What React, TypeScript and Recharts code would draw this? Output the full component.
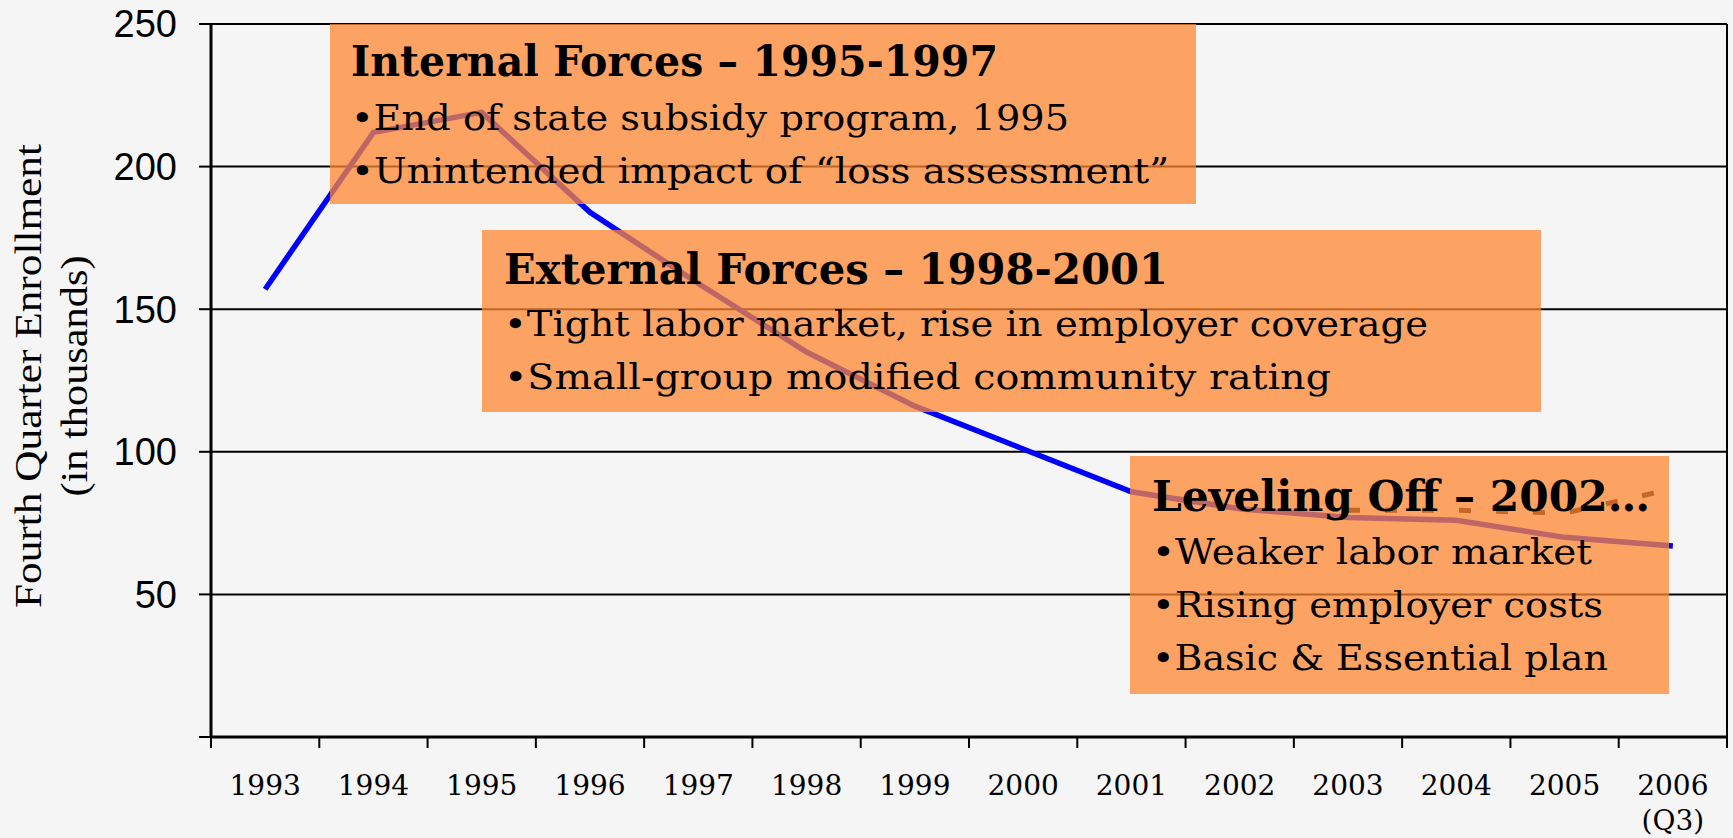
import React from 'react';
import { LineChart, Line, XAxis, YAxis, CartesianGrid, ReferenceLine } from 'recharts';

// Fourth quarter enrollment (thousands)
const years = ['1993', '1994', '1995', '1996', '1997', '1998', '1999', '2000', '2001', '2002', '2003', '2004', '2005', '2006'];
const enrollment = [157, 212, 219, 184, 159, 135, 116, 101, 86, 80, 77, 76, 70, 67];
const projected: (number | null)[] = [null, null, null, null, null, null, null, null, null, null, 79.5, 79.5, 78.5, 87];
const yTicks = [0, 50, 100, 150, 200, 250];
const lastYearNote = '(Q3)';

const axisTitle = ['Fourth Quarter Enrollment', '(in thousands)'];

const internalNote = ['Internal Forces \u2013 1995-1997', '\u2022End of state subsidy program, 1995', '\u2022Unintended impact of \u201closs assessment\u201d'];
const externalNote = ['External Forces \u2013 1998-2001', '\u2022Tight labor market, rise in employer coverage', '\u2022Small-group modified community rating'];
const levelingNote = ['Leveling Off \u2013 2002\u2026', '\u2022Weaker labor market', '\u2022Rising employer costs', '\u2022Basic & Essential plan'];

const data = years.map((year, i) => ({
  pos: i + 0.5,
  year,
  enrollment: enrollment[i],
  projected: projected[i],
}));

const boundaryTicks = [...years.map((_, i) => i), years.length];
const labelTicks = years.map((_, i) => i + 0.5);

const serif = '"DejaVu Serif", Georgia, serif';

const YearTick = ({ x, y, payload }: any) => {
  const idx = Math.floor(payload.value);
  const label = years[idx];
  const isLast = idx === years.length - 1;
  return (
    <g>
      <text x={x} y={y + 46} textAnchor="middle" fontFamily={serif} fontSize={28} fill="#000">
        {label}
      </text>
      {isLast && (
        <text x={x} y={y + 81} textAnchor="middle" fontFamily={serif} fontSize={28} fill="#000">
          {lastYearNote}
        </text>
      )}
    </g>
  );
};

// box layout for the three callouts: [x, y, w, h], text start, baselines, widths
const callouts = [
  { lines: internalNote, box: [330, 24, 866, 180], tx: 351, base: [76, 130, 183], widths: [647, 718, 818] },
  { lines: externalNote, box: [482, 230, 1059, 182], tx: 504, base: [284, 336, 389], widths: [664, 924, 827] },
  { lines: levelingNote, box: [1130, 456, 539, 238], tx: 1152, base: [511, 564, 617, 670], widths: [498, 440, 451, 456] },
];

export default function App() {
  return (
    <div style={{ position: 'absolute', left: 0, top: 0, width: 1733, height: 838, background: '#f5f5f5' }}>
      <LineChart width={1733} height={838} data={data} margin={{ top: 24, right: 6, left: 0, bottom: 0 }}>
        <CartesianGrid xAxisId="a" vertical={false} stroke="#000" strokeWidth={2} />
        <XAxis
          xAxisId="b"
          type="number"
          dataKey="pos"
          domain={[0, years.length]}
          ticks={labelTicks}
          axisLine={false}
          tickLine={false}
          tickSize={0}
          tickMargin={0}
          height={89}
          interval={0}
          tick={<YearTick />}
        />
        <XAxis
          xAxisId="a"
          type="number"
          dataKey="pos"
          domain={[0, years.length]}
          ticks={boundaryTicks}
          tickFormatter={() => ''}
          tickSize={11}
          height={12}
          interval={0}
          axisLine={{ stroke: '#000', strokeWidth: 3 }}
          tickLine={{ stroke: '#000', strokeWidth: 2 }}
        />
        <YAxis
          type="number"
          domain={[0, 250]}
          ticks={yTicks}
          width={211}
          tickSize={12}
          tickMargin={22}
          interval={0}
          tickFormatter={(v: number) => (v === 0 ? '' : String(v))}
          tick={{ fontSize: 38, fill: '#000', fontFamily: '"Liberation Sans", Arial, sans-serif' }}
          axisLine={{ stroke: '#000', strokeWidth: 3 }}
          tickLine={{ stroke: '#000', strokeWidth: 2 }}
        />
        <ReferenceLine xAxisId="a" x={years.length} stroke="#000" strokeWidth={2} />
        <Line
          xAxisId="a"
          type="linear"
          dataKey="enrollment"
          stroke="#0000ff"
          strokeWidth={5.5}
          dot={false}
          isAnimationActive={false}
        />
        <Line
          xAxisId="a"
          type="linear"
          dataKey="projected"
          stroke="#1c0800"
          strokeWidth={5}
          strokeDasharray="12 25"
          dot={false}
          connectNulls={false}
          isAnimationActive={false}
        />
      </LineChart>

      <svg width={1733} height={838} style={{ position: 'absolute', left: 0, top: 0, pointerEvents: 'none' }}>
        <text
          transform="translate(41, 376) rotate(-90)"
          textAnchor="middle"
          fontFamily='"Liberation Serif", "Times New Roman", serif'
          fontSize={37}
          textLength={464}
          lengthAdjust="spacingAndGlyphs"
          fill="#000"
        >
          {axisTitle[0]}
        </text>
        <text
          transform="translate(87, 376) rotate(-90)"
          textAnchor="middle"
          fontFamily='"Liberation Serif", "Times New Roman", serif'
          fontSize={37}
          textLength={241}
          lengthAdjust="spacingAndGlyphs"
          fill="#000"
        >
          {axisTitle[1]}
        </text>

        {callouts.map((c, ci) => (
          <g key={ci}>
            <rect x={c.box[0]} y={c.box[1]} width={c.box[2]} height={c.box[3]} fill="rgb(253,135,51)" fillOpacity={0.75} />
            {c.lines.map((line, li) => (
              <text
                key={li}
                x={c.tx}
                y={c.base[li]}
                fontFamily={serif}
                fontSize={li === 0 ? 42 : 36}
                fontWeight={li === 0 ? 'bold' : 'normal'}
                textLength={c.widths[li]}
                lengthAdjust="spacingAndGlyphs"
                fill="#000"
              >
                {line}
              </text>
            ))}
          </g>
        ))}
      </svg>
    </div>
  );
}
